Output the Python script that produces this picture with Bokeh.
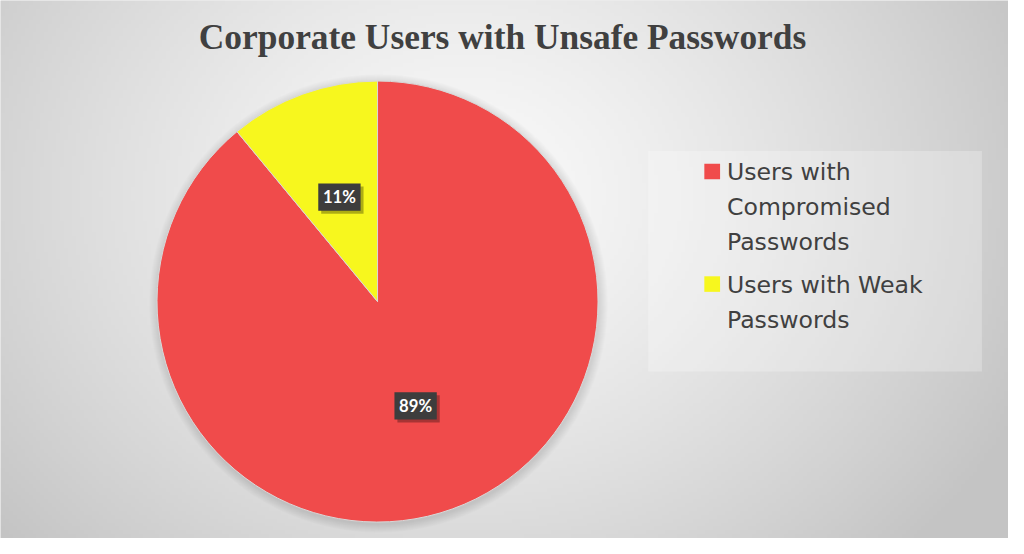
import math
import textwrap
import numpy as np
from bokeh.plotting import figure
from bokeh.models import Range1d, ColumnDataSource
from bokeh.core.properties import value
from bokeh.embed import file_html
from bokeh.resources import INLINE

# ---- data ----
title = "Corporate Users with Unsafe Passwords"
categories = ["Users with Compromised Passwords", "Users with Weak Passwords"]
values = [89, 11]
colors = ["#F04B4B", "#F7F71E"]

# ---- layout: data coordinates are reference pixels (1024x554), y flipped ----
W, H = 1008, 538
RW, RH = 1024, 554
S = W / RW  # font scale


def fy(y):
    return RH - y


def fs(px):
    return f"{px * S:.1f}px"


p = figure(width=W, height=H, output_backend="svg", toolbar_location=None,
           x_range=Range1d(0, RW), y_range=Range1d(0, RH), min_border=0)
p.axis.visible = False
p.grid.visible = False
p.outline_line_color = None
p.background_fill_color = "#dcdcdc"
p.border_fill_color = "#dcdcdc"

# background radial gradient
nx, ny = 256, 139
xs = np.linspace(0, RW, nx)
ys = np.linspace(0, RH, ny)
gx, gy = np.meshgrid(xs, ys)
cx_g, cy_g = 470, fy(200)
d = np.sqrt((gx - cx_g) ** 2 + ((gy - cy_g) / 0.85) ** 2) / 630.0
d = np.clip(d, 0, 1)
lum = (250 - (250 - 196) * d ** 1.3).astype(np.uint32)
img = (255 << 24) | (lum << 16) | (lum << 8) | lum
p.image_rgba(image=[img.astype(np.uint32)], x=0, y=0, dw=RW, dh=RH)

# pie geometry
cx, cy, r = 383, fy(310), 224
total = sum(values)
fracs = [v / total for v in values]
cum = np.cumsum([0] + fracs)
starts = [math.pi / 2 - 2 * math.pi * cum[i] for i in range(len(values))]
ends = [math.pi / 2 - 2 * math.pi * cum[i + 1] for i in range(len(values))]

# soft shadow around pie
for k in range(1, 10):
    p.circle(x=cx + 1, y=cy - 2, radius=r + k, fill_color="black",
             fill_alpha=0.012, line_color=None)

src = ColumnDataSource(dict(cat=categories, val=values, color=colors,
                            start=starts, end=ends))
p.wedge(x=cx, y=cy, radius=r, start_angle="start", end_angle="end",
        direction="clock", fill_color="color", line_color="#d8d8d8",
        line_width=1, source=src)

# data labels
mids = [(s + e) / 2 for s, e in zip(starts, ends)]
lx = [cx + 0.51 * r * math.cos(m) for m in mids]
ly = [cy + 0.51 * r * math.sin(m) for m in mids]
labels = [f"{round(v / total * 100)}%" for v in values]
p.rect(x=[x + 3 for x in lx], y=[y - 3 for y in ly], width=43, height=28,
       fill_color="black", fill_alpha=0.3, line_color=None)
p.rect(x=lx, y=ly, width=43, height=28, fill_color="#3d3d3d",
       line_color=None)
p.text(x=lx, y=ly, text=labels, text_color="white",
       text_font=value("Lato"), text_font_style="bold",
       text_font_size=fs(17), text_align="center", text_baseline="middle")

# title
p.text(x=[510], y=[fy(38)], text=[title], text_color="#404040",
       text_font=value("Liberation Serif"), text_font_style="bold",
       text_font_size=fs(36), text_align="center", text_baseline="middle")

# legend box
p.quad(left=658, right=997, top=fy(155), bottom=fy(382),
       fill_color="white", fill_alpha=0.25, line_color=None)

line_gap = 36
item_gap = 44
ycur = 177
tx, ty, tt = [], [], []
sq_y = []
for cat in categories:
    lines = textwrap.wrap(cat, 15)
    sq_y.append(fy(ycur - 1))
    for i, ln in enumerate(lines):
        tx.append(738)
        ty.append(fy(ycur + i * line_gap))
        tt.append(ln)
    ycur += (len(lines) - 1) * line_gap + item_gap

p.rect(x=[723] * len(categories), y=sq_y, width=16, height=16,
       fill_color=colors, line_color=None)
p.text(x=tx, y=ty, text=tt, text_color="#404040",
       text_font=value("DejaVu Sans"), text_font_size=fs(24),
       text_align="left", text_baseline="middle")

open("out.html", "w").write(file_html(p, INLINE))
